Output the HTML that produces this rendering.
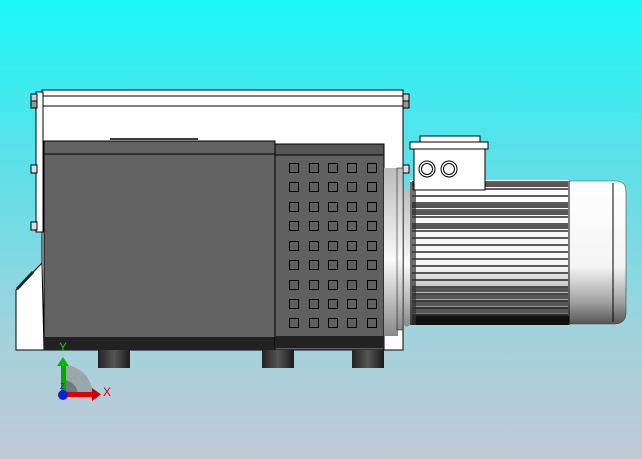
<!DOCTYPE html>
<html><head><meta charset="utf-8"><style>html,body{margin:0;padding:0;width:642px;height:459px;overflow:hidden}</style></head>
<body>
<svg width="642" height="459" viewBox="0 0 642 459" xmlns="http://www.w3.org/2000/svg" font-family="Liberation Sans, sans-serif">
<defs>
<linearGradient id="bg" x1="0" y1="0" x2="0" y2="1">
<stop offset="0" stop-color="#1cf8f8"/><stop offset="0.35" stop-color="#5ce0e8"/><stop offset="0.75" stop-color="#a4d2dc"/><stop offset="1" stop-color="#c0c8d4"/></linearGradient>
<linearGradient id="foot" x1="0" y1="0" x2="1" y2="0">
<stop offset="0" stop-color="#222"/><stop offset="0.5" stop-color="#555"/><stop offset="1" stop-color="#1a1a1a"/></linearGradient>
<linearGradient id="cyl" x1="0" y1="0" x2="0" y2="1">
<stop offset="0" stop-color="#ffffff"/><stop offset="0.6" stop-color="#f4f4f4"/><stop offset="0.85" stop-color="#a0a0a0"/><stop offset="1" stop-color="#555"/></linearGradient>
<linearGradient id="fl" x1="0" y1="0" x2="0" y2="1">
<stop offset="0" stop-color="#bbb"/><stop offset="0.55" stop-color="#fafafa"/><stop offset="1" stop-color="#888"/></linearGradient>
</defs>
<rect width="642" height="459" fill="url(#bg)"/>
<rect x="42" y="90" width="361" height="260" fill="#fff" stroke="#000"/>
<line x1="42" y1="96" x2="403" y2="96" stroke="#000"/>
<line x1="42" y1="106" x2="403" y2="106" stroke="#000"/>
<rect x="36" y="92" width="7" height="140" fill="#fff" stroke="#000"/>
<rect x="31" y="94" width="6" height="7" fill="#ccc" stroke="#000"/>
<rect x="31" y="101" width="6" height="7" fill="#999" stroke="#000"/>
<rect x="31" y="165" width="6" height="8" fill="#ddd" stroke="#000"/>
<rect x="31" y="222" width="6" height="8" fill="#ddd" stroke="#000"/>
<rect x="403" y="94" width="6" height="7" fill="#ccc" stroke="#000"/>
<rect x="403" y="101" width="6" height="7" fill="#999" stroke="#000"/>
<rect x="403" y="165" width="6" height="8" fill="#ddd" stroke="#000"/>
<path d="M16,290 L42,263 L44,350 L16,350 Z" fill="#fff" stroke="#000"/>
<path d="M16,288 L32,271 L34,273 L18,290 Z" fill="#222"/>
<line x1="110" y1="139" x2="198" y2="139" stroke="#000" stroke-width="1.5"/>
<rect x="44" y="141" width="231" height="209" fill="#626262" stroke="#000"/>
<line x1="44" y1="154" x2="275" y2="154" stroke="#000"/>
<rect x="44" y="337" width="231" height="13" fill="#222"/>
<rect x="275" y="144" width="109" height="206" fill="#606060" stroke="#000"/>
<rect x="275" y="144" width="109" height="11" fill="#555" stroke="#000"/>
<rect x="275" y="336" width="109" height="12" fill="#222"/>
<g fill="none" stroke="#000" stroke-width="1">
<g id="row">
<rect x="289.5" y="163.5" width="9" height="9"/><rect x="309.5" y="163.5" width="9" height="9"/><rect x="328.5" y="163.5" width="9" height="9"/><rect x="347.5" y="163.5" width="9" height="9"/><rect x="367.5" y="163.5" width="9" height="9"/>
</g>
<use href="#row" y="19"/><use href="#row" y="39"/><use href="#row" y="58"/><use href="#row" y="78"/><use href="#row" y="97"/><use href="#row" y="117"/><use href="#row" y="136"/><use href="#row" y="155"/>
</g>
<rect x="98" y="350" width="32" height="18" fill="url(#foot)"/>
<rect x="262" y="350" width="32" height="18" fill="url(#foot)"/>
<rect x="352" y="350" width="32" height="18" fill="url(#foot)"/>
<rect x="384" y="168" width="14" height="168" fill="url(#fl)"/>
<rect x="397" y="168" width="6" height="162" fill="url(#fl)" stroke="#000" stroke-width="0.5"/>
<path d="M404,190 Q410,185 412,190 L412,320 Q408,330 404,325 Z" fill="url(#fl)"/>
<rect x="410" y="180" width="159" height="145" fill="url(#cyl)"/>
<g stroke="#000" stroke-width="1.2">
<line x1="412" y1="182" x2="568" y2="182"/><line x1="412" y1="189" x2="568" y2="189"/><line x1="412" y1="196" x2="568" y2="196"/><line x1="412" y1="203" x2="568" y2="203"/><line x1="412" y1="210" x2="568" y2="210"/><line x1="412" y1="217" x2="568" y2="217"/><line x1="412" y1="224" x2="568" y2="224"/><line x1="412" y1="231" x2="568" y2="231"/><line x1="412" y1="238" x2="568" y2="238"/><line x1="412" y1="245" x2="568" y2="245"/><line x1="412" y1="252" x2="568" y2="252"/><line x1="412" y1="259" x2="568" y2="259"/><line x1="412" y1="266" x2="568" y2="266"/><line x1="412" y1="273" x2="568" y2="273"/><line x1="412" y1="280" x2="568" y2="280"/><line x1="412" y1="287" x2="568" y2="287"/><line x1="412" y1="294" x2="568" y2="294"/><line x1="412" y1="301" x2="568" y2="301"/><line x1="412" y1="308" x2="568" y2="308"/><line x1="412" y1="315" x2="568" y2="315"/>
</g>
<g fill="#555">
<rect x="412" y="183" width="156" height="4"/><rect x="412" y="204" width="156" height="4"/><rect x="412" y="211" width="156" height="4"/><rect x="412" y="225" width="156" height="4"/><rect x="412" y="288" width="156" height="4"/><rect x="412" y="295" width="156" height="4"/><rect x="412" y="302" width="156" height="4"/><rect x="412" y="309" width="156" height="4"/>
</g>
<rect x="412" y="316" width="157" height="9" fill="#111"/>
<rect x="410" y="182" width="6" height="143" fill="#333" opacity="0.7"/>
<path d="M569,181 L616,181 Q626,181 626,192 L626,312 Q626,324 614,324 L569,324 Z" fill="url(#cyl)" stroke="#444" stroke-width="0.6"/>
<line x1="613" y1="183" x2="613" y2="322" stroke="#000"/>
<line x1="569" y1="181" x2="569" y2="325" stroke="#000"/>
<rect x="420" y="136" width="60" height="6" fill="#fff" stroke="#000"/>
<rect x="410" y="142" width="78" height="7" fill="#fff" stroke="#000"/>
<rect x="414" y="149" width="71" height="41" fill="#fff" stroke="#000"/>
<g fill="#fff" stroke="#000">
<circle cx="427" cy="169" r="8"/><circle cx="427" cy="169" r="5.5"/><circle cx="449" cy="169" r="8"/><circle cx="449" cy="169" r="5.5"/>
</g>
<path d="M63,365 A30,30 0 0 1 93,395 L63,395 Z" fill="#9aa8ac"/>
<path d="M63,380 A15,15 0 0 1 78,395 L63,395 Z" fill="#707a7e"/>
<rect x="61" y="365" width="5" height="30" fill="#0a0"/>
<path d="M57,366 L63,357 L69,366 Z" fill="#0b0"/>
<rect x="63" y="392" width="30" height="5" fill="#d00"/>
<path d="M92,388 L101,394.5 L92,401 Z" fill="#c00"/>
<circle cx="63" cy="395" r="5" fill="#12c"/>
<text x="59" y="351" font-size="12" fill="#1c1">Y</text>
<text x="103" y="396" font-size="12" fill="#d00">X</text>
<text x="60" y="389" font-size="8" fill="#13c">Z</text>
</svg>
</body></html>
